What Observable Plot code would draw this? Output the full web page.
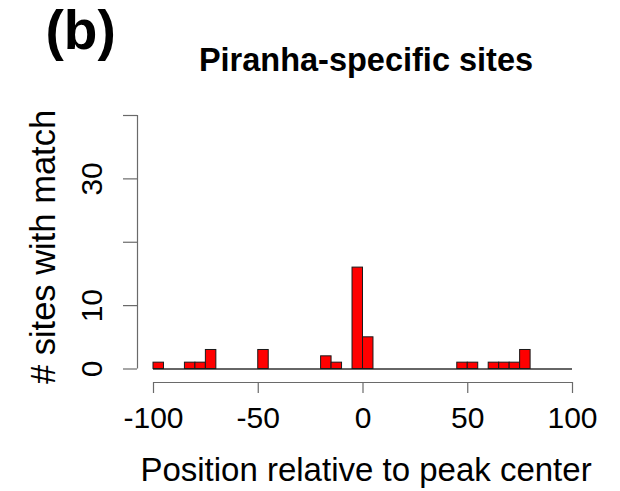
<!DOCTYPE html>
<html>
<head>
<meta charset="utf-8">
<script src="https://cdn.jsdelivr.net/npm/d3@7"></script>
<script src="https://cdn.jsdelivr.net/npm/@observablehq/plot@0.6"></script>
<style>
  html, body { margin: 0; padding: 0; background: #fff; }
  #chart { width: 620px; height: 491px; }
</style>
</head>
<body>
<div id="chart"></div>
<script>
// Histogram of motif-match positions around Piranha-specific peak centers (5 bp bins)
const binStart = [-100, -85, -80, -75, -50, -20, -15, -5, 0, 45, 50, 60, 65, 70, 75];
const siteCount = [1, 1, 1, 3, 3, 2, 1, 16, 5, 1, 1, 1, 1, 1, 3];
const binWidth = 5;

const xTicks = [-100, -50, 0, 50, 100];
const yTicks = [0, 10, 20, 30, 40];
const yTickLabels = ["0", "10", "", "30", ""];

const panelLabel = "(b)";
const chartTitle = "Piranha-specific sites";
const xLabel = "Position relative to peak center";
const yLabel = "# sites with match";

const bins = binStart.map((s, i) => ({x1: s, x2: s + binWidth, count: siteCount[i]}));

const font = "Liberation Sans, Arial, Helvetica, sans-serif";
const axisColor = "#6a6a6a";

const plot = Plot.plot({
  width: 620,
  height: 491,
  marginTop: 115,
  marginRight: 48,
  marginBottom: 109,
  marginLeft: 137,
  style: {fontFamily: font, background: "#fff", color: "#000"},
  x: {domain: [-100, 100], insetLeft: 16},
  y: {domain: [0, 40], insetBottom: 13.5},
  marks: [
    // axis lines, drawn offset from the data region
    Plot.ruleX([-100], {y1: 0, y2: 40, dx: -16, stroke: axisColor, strokeWidth: 1.2}),
    Plot.ruleY([0], {x1: -100, x2: 100, dy: 13.5, stroke: axisColor, strokeWidth: 1.2}),
    Plot.axisY({
      ticks: yTicks,
      tickFormat: (d) => yTickLabels[yTicks.indexOf(d)],
      tickSize: 14,
      tickPadding: 22,
      tickRotate: -90,
      fontSize: 30,
      stroke: axisColor,
      strokeWidth: 1.2,
      fill: "#000",
      label: null
    }),
    Plot.axisX({
      ticks: xTicks,
      tickFormat: (d) => String(d),
      tickSize: 11,
      tickPadding: 13,
      fontSize: 30,
      stroke: axisColor,
      strokeWidth: 1.2,
      fill: "#000",
      label: null
    }),
    // zero baseline across the full range
    Plot.ruleY([0], {x1: -100, x2: 100, stroke: "#333", strokeWidth: 1.5}),
    Plot.rectY(bins, {x1: "x1", x2: "x2", y: "count", fill: "#ff0000", stroke: "#1a1a1a", strokeWidth: 1}),
    Plot.text([xLabel], {frameAnchor: "bottom", textAnchor: "middle", lineAnchor: "bottom", dx: 11, dy: 98, fontSize: 33, fill: "#000"}),
    Plot.text([yLabel], {frameAnchor: "left", textAnchor: "middle", lineAnchor: "bottom", rotate: -90, dx: -83, dy: -2, fontSize: 34.5, fill: "#000"}),
    Plot.text([chartTitle], {frameAnchor: "top", textAnchor: "middle", lineAnchor: "bottom", dx: 11, dy: -45, fontSize: 32.5, fontWeight: "bold", fill: "#000"}),
    Plot.text([panelLabel], {frameAnchor: "top-left", textAnchor: "start", lineAnchor: "bottom", dx: -92, dy: -67, fontSize: 55, fontWeight: "bold", fill: "#000"})
  ]
});

document.getElementById("chart").appendChild(plot);
</script>
</body>
</html>
